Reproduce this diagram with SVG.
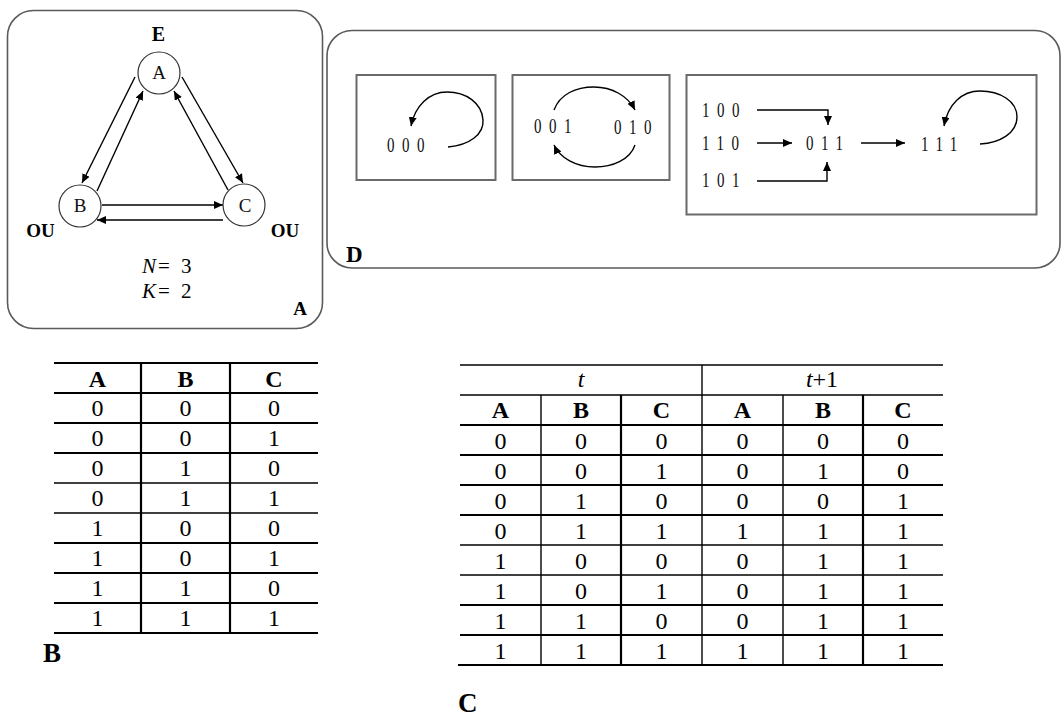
<svg xmlns="http://www.w3.org/2000/svg" width="1061" height="717" viewBox="0 0 1061 717">
  <style>
    .panel { fill: none; stroke: #5a5a5a; stroke-width: 1.6; }
    .box { fill: none; stroke: #6a6a6a; stroke-width: 2; }
    .node { fill: #fff; stroke: #333; stroke-width: 1.2; }
    .edge { fill: none; stroke: #000; stroke-width: 1.4; marker-end: url(#ah); }
    .ser { font-family: "Liberation Serif", "Times New Roman", serif; fill: #000; }
    .bold { font-weight: bold; }
    .lbl { font-family: "Liberation Serif", "Times New Roman", serif; font-size: 19px; fill: #111; text-anchor: middle; }
    .st { font-family: "Liberation Serif", "Times New Roman", serif; font-size: 20px; fill: #111; letter-spacing: 10px; }
    .cell { font-family: "Liberation Serif", "Times New Roman", serif; font-size: 24px; fill: #000; text-anchor: middle; }
    .hd { font-weight: bold; }
    .thin { stroke: #000; stroke-width: 1.4; }
    .thick { stroke: #000; stroke-width: 2.2; }
  </style>
  <defs>
    <marker id="ah" viewBox="0 0 10 10" refX="10" refY="5" markerWidth="9" markerHeight="8" markerUnits="userSpaceOnUse" orient="auto" preserveAspectRatio="none">
      <path d="M0,0 L10,5 L0,10 z" fill="#000"/>
    </marker>
  </defs>

  <rect width="1061" height="717" fill="#fff"/>

  <!-- Panel A: three-node network -->
  <g id="panel-a">
    <rect class="panel" x="7.5" y="10.5" width="315" height="318" rx="26" ry="26"/>
    <text class="ser bold" x="158.5" y="41" font-size="20" text-anchor="middle">E</text>
    <text class="ser bold" x="40.5" y="237" font-size="19" text-anchor="middle">OU</text>
    <text class="ser bold" x="285" y="237" font-size="19" text-anchor="middle">OU</text>
    <text class="ser" y="273" font-size="21"><tspan x="142" font-style="italic">N</tspan><tspan x="158">=</tspan><tspan x="181">3</tspan></text>
    <text class="ser" y="298" font-size="21"><tspan x="142" font-style="italic">K</tspan><tspan x="158">=</tspan><tspan x="181">2</tspan></text>
    <text class="ser bold" x="300" y="315" font-size="19" text-anchor="middle">A</text>
  </g>

  <g id="connectors-a">
    <line class="edge" x1="135" y1="77" x2="82" y2="183"/>
    <line class="edge" x1="97" y1="191" x2="143" y2="91"/>
    <line class="edge" x1="182" y1="77" x2="243" y2="183"/>
    <line class="edge" x1="228" y1="190" x2="174" y2="91"/>
    <line class="edge" x1="102" y1="205" x2="223" y2="205"/>
    <line class="edge" x1="223" y1="220" x2="97" y2="220"/>
  </g>

  <g id="node-a">
    <circle class="node" cx="159" cy="73" r="21"/>
    <text class="lbl" x="159" y="79">A</text>
  </g>
  <g id="node-b">
    <circle class="node" cx="80" cy="206" r="21"/>
    <text class="lbl" x="80" y="212">B</text>
  </g>
  <g id="node-c">
    <circle class="node" cx="244" cy="205" r="21"/>
    <text class="lbl" x="245" y="212">C</text>
  </g>

  <!-- Panel D: state transition graph -->
  <g id="panel-d">
    <rect class="panel" x="327" y="30.5" width="733" height="237.5" rx="25" ry="25"/>
    <text class="ser bold" x="346" y="262" font-size="23">D</text>
    <rect class="box" x="356.5" y="75" width="139" height="105"/>
    <rect class="box" x="512.5" y="75" width="157" height="105"/>
    <rect class="box" x="686.5" y="75" width="350" height="139.5"/>
  </g>

  <g id="state-000"><text class="st" transform="translate(387,152) scale(0.75,1)">000</text></g>
  <g id="state-001"><text class="st" transform="translate(534,133) scale(0.75,1)">001</text></g>
  <g id="state-010"><text class="st" transform="translate(614,134) scale(0.75,1)">010</text></g>
  <g id="state-100"><text class="st" transform="translate(702,117) scale(0.75,1)">100</text></g>
  <g id="state-110"><text class="st" transform="translate(702,150) scale(0.75,1)">110</text></g>
  <g id="state-101"><text class="st" transform="translate(702,187) scale(0.75,1)">101</text></g>
  <g id="state-011"><text class="st" transform="translate(806,150) scale(0.75,1)">011</text></g>
  <g id="state-111"><text class="st" transform="translate(921,151) scale(0.75,1)">111</text></g>

  <g id="connectors-d">
    <path class="edge" d="M448,147 C470,145 484,134 483,120 C482,103 466,92 447,92 C429,92 415,106 411,126"/>
    <path class="edge" d="M554,110 C560,94 576,87 594,87 C612,87 628,96 635,110"/>
    <path class="edge" d="M635,145 C630,160 612,167 595,167 C576,167 560,158 554,145"/>
    <path class="edge" d="M757,110 H828 V125"/>
    <path class="edge" d="M757,143 H792"/>
    <path class="edge" d="M757,181 H827 V162"/>
    <path class="edge" d="M861,143 H905"/>
    <path class="edge" d="M980,144 C1000,143 1017,133 1017,117 C1017,101 1000,91 980,91 C962,91 948,104 944,126"/>
  </g>

  <!-- Table B: all input states -->
  <g id="table-b">
    <line class="thick" x1="54" y1="363" x2="318" y2="363"/>
    <line class="thick" x1="54" y1="393" x2="318" y2="393"/>
    <line class="thick" x1="54" y1="423" x2="318" y2="423"/>
    <line class="thick" x1="54" y1="453" x2="318" y2="453"/>
    <line class="thin" x1="54" y1="483" x2="318" y2="483"/>
    <line class="thin" x1="54" y1="513" x2="318" y2="513"/>
    <line class="thick" x1="54" y1="543" x2="318" y2="543"/>
    <line class="thick" x1="54" y1="573" x2="318" y2="573"/>
    <line class="thick" x1="54" y1="603" x2="318" y2="603"/>
    <line class="thick" x1="54" y1="633" x2="318" y2="633"/>
    <line class="thick" x1="141" y1="363" x2="141" y2="633"/>
    <line class="thick" x1="230" y1="363" x2="230" y2="633"/>
    <g class="cell">
      <text class="hd" x="97.5" y="387">A</text><text class="hd" x="185.5" y="387">B</text><text class="hd" x="274" y="387">C</text>
      <text x="97.5" y="416">0</text><text x="185.5" y="416">0</text><text x="274" y="416">0</text>
      <text x="97.5" y="446">0</text><text x="185.5" y="446">0</text><text x="274" y="446">1</text>
      <text x="97.5" y="476">0</text><text x="185.5" y="476">1</text><text x="274" y="476">0</text>
      <text x="97.5" y="506">0</text><text x="185.5" y="506">1</text><text x="274" y="506">1</text>
      <text x="97.5" y="536">1</text><text x="185.5" y="536">0</text><text x="274" y="536">0</text>
      <text x="97.5" y="566">1</text><text x="185.5" y="566">0</text><text x="274" y="566">1</text>
      <text x="97.5" y="596">1</text><text x="185.5" y="596">1</text><text x="274" y="596">0</text>
      <text x="97.5" y="626">1</text><text x="185.5" y="626">1</text><text x="274" y="626">1</text>
    </g>
    <text class="ser bold" x="43" y="662" font-size="27">B</text>
  </g>

  <!-- Table C: state at t and t+1 -->
  <g id="table-c">
    <line class="thin" x1="460" y1="365" x2="943" y2="365"/>
    <line class="thin" x1="460" y1="395" x2="943" y2="395"/>
    <line class="thick" x1="460" y1="425" x2="943" y2="425"/>
    <line class="thick" x1="460" y1="455" x2="943" y2="455"/>
    <line class="thick" x1="460" y1="485" x2="943" y2="485"/>
    <line class="thick" x1="460" y1="515" x2="943" y2="515"/>
    <line class="thin" x1="460" y1="545" x2="943" y2="545"/>
    <line class="thin" x1="460" y1="575" x2="943" y2="575"/>
    <line class="thick" x1="460" y1="605" x2="943" y2="605"/>
    <line class="thick" x1="460" y1="635" x2="943" y2="635"/>
    <line class="thick" x1="458" y1="665" x2="943" y2="665"/>
    <line class="thin" x1="702" y1="365" x2="702" y2="665"/>
    <line class="thin" x1="541" y1="395" x2="541" y2="665"/>
    <line class="thick" x1="621" y1="395" x2="621" y2="665"/>
    <line class="thin" x1="783" y1="395" x2="783" y2="665"/>
    <line class="thick" x1="863" y1="395" x2="863" y2="665"/>
    <g class="cell">
      <text x="581" y="387" font-style="italic">t</text>
      <text x="822" y="387"><tspan font-style="italic">t</tspan>+1</text>
      <text class="hd" x="500.5" y="418">A</text><text class="hd" x="581" y="418">B</text><text class="hd" x="661.5" y="418">C</text>
      <text class="hd" x="742.5" y="418">A</text><text class="hd" x="823" y="418">B</text><text class="hd" x="903" y="418">C</text>
      <text x="500.5" y="449">0</text><text x="581" y="449">0</text><text x="661.5" y="449">0</text><text x="742.5" y="449">0</text><text x="823" y="449">0</text><text x="903" y="449">0</text>
      <text x="500.5" y="479">0</text><text x="581" y="479">0</text><text x="661.5" y="479">1</text><text x="742.5" y="479">0</text><text x="823" y="479">1</text><text x="903" y="479">0</text>
      <text x="500.5" y="509">0</text><text x="581" y="509">1</text><text x="661.5" y="509">0</text><text x="742.5" y="509">0</text><text x="823" y="509">0</text><text x="903" y="509">1</text>
      <text x="500.5" y="539">0</text><text x="581" y="539">1</text><text x="661.5" y="539">1</text><text x="742.5" y="539">1</text><text x="823" y="539">1</text><text x="903" y="539">1</text>
      <text x="500.5" y="569">1</text><text x="581" y="569">0</text><text x="661.5" y="569">0</text><text x="742.5" y="569">0</text><text x="823" y="569">1</text><text x="903" y="569">1</text>
      <text x="500.5" y="599">1</text><text x="581" y="599">0</text><text x="661.5" y="599">1</text><text x="742.5" y="599">0</text><text x="823" y="599">1</text><text x="903" y="599">1</text>
      <text x="500.5" y="629">1</text><text x="581" y="629">1</text><text x="661.5" y="629">0</text><text x="742.5" y="629">0</text><text x="823" y="629">1</text><text x="903" y="629">1</text>
      <text x="500.5" y="659">1</text><text x="581" y="659">1</text><text x="661.5" y="659">1</text><text x="742.5" y="659">1</text><text x="823" y="659">1</text><text x="903" y="659">1</text>
    </g>
    <text class="ser bold" x="458" y="712" font-size="27">C</text>
  </g>
</svg>
